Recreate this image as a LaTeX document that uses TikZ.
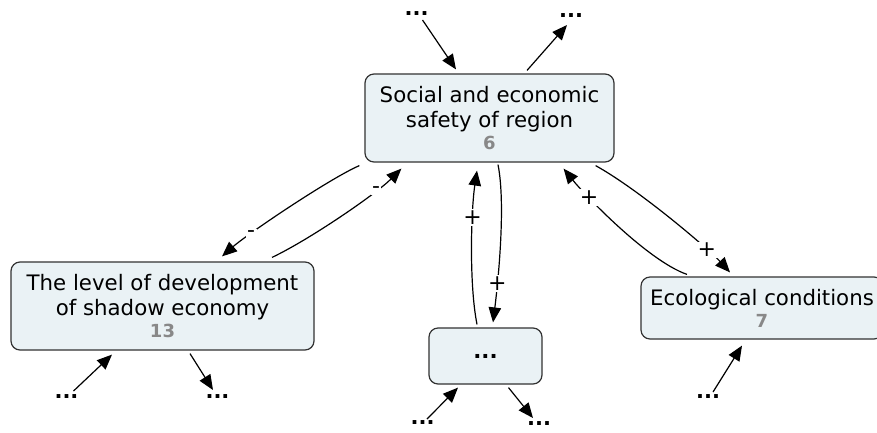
\documentclass[tikz,border=0pt]{standalone}
\usepackage{fontspec}
\setmainfont{DejaVu Sans}
\usetikzlibrary{arrows.meta,calc}
\definecolor{boxfill}{RGB}{234,242,245}
\definecolor{boxline}{RGB}{50,50,50}
\definecolor{numgray}{RGB}{136,136,136}
\newcommand{\conceptno}[1]{{\fontsize{18}{18}\selectfont\bfseries\color{numgray}#1}}
\begin{document}
\begin{tikzpicture}[x=1pt,y=-1pt,
  concept/.style={draw=boxline, line width=1.2pt, fill=boxfill, rounded corners=9pt,
    align=center, inner sep=0pt, font=\fontsize{21.3}{25}\selectfont},
  more/.style={inner sep=0pt, font=\fontsize{21}{25}\selectfont\bfseries},
  link/.style={line width=1.2pt, -{Triangle[length=15pt,width=12.5pt]}},
  sign/.style={fill=white, inner sep=1.5pt, font=\fontsize{22}{22}\selectfont}
]
\useasboundingbox (0,0) rectangle (877,432);
\clip (0,0) rectangle (877,432);
\fill[white] (0,0) rectangle (877,432);

% concepts
\node[concept, minimum width=249pt, minimum height=88pt] (ctr) at (489.5,118)
  {Social and economic\\safety of region\\[-3pt]\conceptno{6}};
\node[concept, minimum width=303pt, minimum height=88pt] (lf) at (162.5,306)
  {The level of development\\of shadow economy\\[-3pt]\conceptno{13}};
\node[concept, minimum width=113pt, minimum height=56pt] (md) at (485.5,356)
  {\textbf{...}};
\node[concept, minimum width=242pt, minimum height=62pt] (rt) at (762,308)
  {Ecological conditions\\[-3pt]\conceptno{7}};

% further links
\node[more] (d1) at (416.5,14) {...};
\node[more] (d2) at (571,16) {...};
\node[more] (d3) at (66.5,397) {...};
\node[more] (d4) at (217.5,397) {...};
\node[more] (d5) at (422.5,423) {...};
\node[more] (d6) at (539,424) {...};
\node[more] (d7) at (708,397) {...};

\draw[link] ($(d1)+(6,6)$) -- ($(ctr.north)+(-33.5,-4)$);
\draw[link] ($(ctr.north)+(37.5,-3)$) -- ($(d2)+(-4,9)$);
\draw[link] ($(d3)+(7,-6)$) -- ($(lf.south)+(-50.5,4)$);
\draw[link] ($(lf.south)+(27.5,3)$) -- ($(d4)+(-4.5,-7)$);
\draw[link] ($(d5)+(4.5,-4)$) -- ($(md.south)+(-27.5,3)$);
\draw[link] ($(md.south)+(23,3)$) -- ($(d6)+(-6,-6)$);
\draw[link] ($(d7)+(5,-5)$) -- ($(rt.south)+(-20,6)$);

% signed influences
\draw[link] ($(ctr.south west)+(-5,3)$) .. controls +(-30,13) and +(25,-22) ..
  ($(lf.north)+(59.5,-5)$) node[sign,pos=0.74] {-};
\draw[link] ($(lf.north)+(109.5,-4)$) .. controls +(38,-18) and +(-25,25) ..
  ($(ctr.south west)+(37,6)$) node[sign,pos=0.75] {-};
\draw[link] ($(md.north)+(-8.5,-3)$) .. controls +(-8,-40) and +(-6,40) ..
  ($(ctr.south)+(-12.5,8)$) node[sign,pos=0.68] {+};
\draw[link] ($(ctr.south)+(8.5,2)$) .. controls +(8,40) and +(5,-40) ..
  ($(md.north)+(7.5,-5)$) node[sign,pos=0.73] {+};
\draw[link] ($(rt.north)+(-75,-2)$) .. controls +(-40,-14) and +(20,25) ..
  ($(ctr.south east)+(-51,6)$) node[sign,pos=0.72] {+};
\draw[link] ($(ctr.south east)+(-19,3)$) .. controls +(45,25) and +(-20,-22) ..
  ($(rt.north)+(-32,-4)$) node[sign,pos=0.75] {+};
\end{tikzpicture}
\end{document}
